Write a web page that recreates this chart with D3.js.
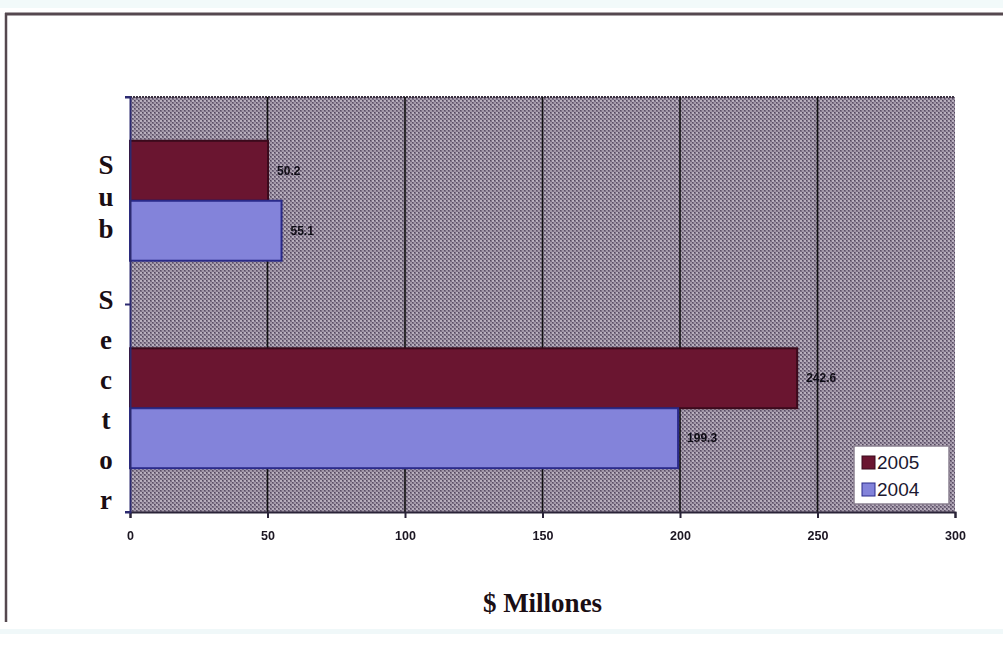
<!DOCTYPE html>
<html>
<head>
<meta charset="utf-8">
<script src="https://cdn.jsdelivr.net/npm/d3@7"></script>
<style>
  html, body { margin: 0; padding: 0; background: #ffffff; }
  svg { display: block; }
</style>
</head>
<body>
<svg id="chart" width="1003" height="647"></svg>
<script>
// Chart data
const categories = ["Grupo 1", "Grupo 2"];
const seriesNames = ["2005", "2004"];
const values2005 = [50.2, 242.6];
const values2004 = [55.1, 199.3];
const xTicks = [0, 50, 100, 150, 200, 250, 300];
const axisTitleLetters = [["S", "u", "b"], ["S", "e", "c", "t", "o", "r"]];
const xTitle = "$ Millones";

const colors = { "2005": "#6a1530", "2004": "#8383da" };
const strokes = { "2005": "#3a0a1c", "2004": "#2a2a8a" };

const svg = d3.select("#chart");
const plot = { left: 130, right: 955, top: 97, bottom: 512 };

// Soft edges for the small text
const defs = svg.append("defs");
defs.append("filter").attr("id", "soft")
  .append("feGaussianBlur").attr("stdDeviation", 0.7);

// Dithered plot background
const pat = defs.append("pattern").attr("id", "dither")
  .attr("width", 4).attr("height", 4).attr("patternUnits", "userSpaceOnUse");
pat.append("rect").attr("width", 4).attr("height", 4).attr("fill", "#7c7086");
pat.append("rect").attr("x", 0).attr("y", 0).attr("width", 2).attr("height", 2).attr("fill", "#b8afbd");
pat.append("rect").attr("x", 2).attr("y", 2).attr("width", 2).attr("height", 2).attr("fill", "#a399a9");
pat.append("rect").attr("x", 2).attr("y", 0).attr("width", 1).attr("height", 1).attr("fill", "#52485c");
pat.append("rect").attr("x", 0).attr("y", 2).attr("width", 1).attr("height", 1).attr("fill", "#5c5066");

// Faint page strips and outer frame
svg.append("rect").attr("x", 0).attr("y", 0).attr("width", 1003).attr("height", 8).attr("fill", "#f2fafa");
svg.append("rect").attr("x", 0).attr("y", 629).attr("width", 1003).attr("height", 5).attr("fill", "#f0f8f9");
svg.append("line").attr("x1", 5).attr("x2", 1003).attr("y1", 14).attr("y2", 14)
  .attr("stroke", "#55484f").attr("stroke-width", 3);
svg.append("line").attr("x1", 6).attr("x2", 6).attr("y1", 13).attr("y2", 622)
  .attr("stroke", "#55484f").attr("stroke-width", 2.5);

// Scales
const x = d3.scaleLinear().domain([0, 300]).range([plot.left, plot.right]);
const y = d3.scaleBand().domain(categories).range([plot.top, plot.bottom]).padding(0);
const ySub = d3.scaleBand().domain(seriesNames).range([0, y.bandwidth()])
  .paddingInner(0).paddingOuter(0.73);

// Plot area
svg.append("rect")
  .attr("x", plot.left).attr("y", plot.top)
  .attr("width", plot.right - plot.left).attr("height", plot.bottom - plot.top)
  .attr("fill", "url(#dither)");
svg.append("line").attr("x1", plot.left).attr("x2", plot.right)
  .attr("y1", plot.top).attr("y2", plot.top)
  .attr("stroke", "#3a3040").attr("stroke-width", 2).attr("stroke-dasharray", "2,1");

// Vertical gridlines
svg.append("g").selectAll("line")
  .data(xTicks.filter(t => t > 0 && t < 300))
  .join("line")
  .attr("x1", d => x(d)).attr("x2", d => x(d))
  .attr("y1", plot.top).attr("y2", plot.bottom)
  .attr("stroke", "#111").attr("stroke-width", 1.6);

// Bars
const rows = categories.map((c, i) => ({
  cat: c,
  items: [
    { s: "2005", v: values2005[i] },
    { s: "2004", v: values2004[i] }
  ]
}));

const groups = svg.append("g").selectAll("g")
  .data(rows).join("g")
  .attr("transform", d => `translate(0,${y(d.cat)})`);

groups.selectAll("rect")
  .data(d => d.items).join("rect")
  .attr("x", x(0))
  .attr("y", d => ySub(d.s))
  .attr("width", d => x(d.v) - x(0))
  .attr("height", ySub.bandwidth())
  .attr("fill", d => colors[d.s])
  .attr("stroke", d => strokes[d.s])
  .attr("stroke-width", 2);

// Value labels
groups.selectAll("text")
  .data(d => d.items).join("text")
  .attr("x", d => x(d.v) + 9)
  .attr("y", d => ySub(d.s) + ySub.bandwidth() / 2)
  .attr("dy", "0.35em")
  .attr("font-family", "Liberation Sans, Arial, sans-serif")
  .attr("font-weight", "bold")
  .attr("font-size", 12)
  .attr("fill", "#0e0a14")
  .attr("filter", "url(#soft)")
  .text(d => d.v.toFixed(1));

// X axis
const xAxis = d3.axisBottom(x).tickValues(xTicks).tickSize(6).tickPadding(13)
  .tickFormat(d3.format("d"));
const gx = svg.append("g").attr("transform", `translate(0,${plot.bottom})`).call(xAxis);
gx.select(".domain").attr("stroke", "#2a2438").attr("stroke-width", 2);
gx.selectAll(".tick line").attr("stroke", "#2a2438").attr("stroke-width", 2);
gx.selectAll(".tick text")
  .attr("font-family", "Liberation Sans, Arial, sans-serif")
  .attr("font-weight", "bold")
  .attr("font-size", 12.5)
  .attr("fill", "#1a1420")
  .attr("filter", "url(#soft)");

// Y axis (category axis without labels)
const yAxis = d3.axisLeft(y).tickFormat("").tickSize(5);
const gy = svg.append("g").attr("transform", `translate(${plot.left},0)`).call(yAxis);
gy.select(".domain").attr("stroke", "#2c2a70").attr("stroke-width", 2);
gy.selectAll(".tick line").remove();
gy.selectAll(".edge").data([plot.top, (plot.top + plot.bottom) / 2, plot.bottom])
  .join("line")
  .attr("x1", -5).attr("x2", 0)
  .attr("y1", d => d).attr("y2", d => d)
  .attr("stroke", "#2c2a70").attr("stroke-width", 2);

// Stacked vertical axis title
const wordStarts = [165, 300];
const wordSteps = [32, 40];
axisTitleLetters.forEach((word, wi) => {
  svg.append("g").selectAll("text")
    .data(word).join("text")
    .attr("x", 106)
    .attr("y", (d, i) => wordStarts[wi] + i * wordSteps[wi])
    .attr("dy", "0.35em")
    .attr("text-anchor", "middle")
    .attr("font-family", "Liberation Serif, Times New Roman, serif")
    .attr("font-weight", "bold")
    .attr("font-size", 27)
    .attr("fill", "#1a0e14")
    .text(d => d);
});

// X axis title
svg.append("text")
  .attr("x", (plot.left + plot.right) / 2)
  .attr("y", 612)
  .attr("text-anchor", "middle")
  .attr("font-family", "Liberation Serif, Times New Roman, serif")
  .attr("font-weight", "bold")
  .attr("font-size", 27)
  .attr("fill", "#1a0e14")
  .text(xTitle);

// Legend
const legend = svg.append("g").attr("transform", "translate(854,446)");
legend.append("rect").attr("width", 95).attr("height", 58)
  .attr("fill", "#ffffff").attr("stroke", "#8a8090").attr("stroke-width", 1.5);
const li = legend.selectAll("g").data(seriesNames).join("g")
  .attr("transform", (d, i) => `translate(8,${16 + i * 27})`);
li.append("rect").attr("x", 0).attr("y", -6).attr("width", 13).attr("height", 13)
  .attr("fill", d => colors[d]).attr("stroke", d => strokes[d]).attr("stroke-width", 1);
li.append("text").attr("x", 15).attr("y", 0).attr("dy", "0.36em")
  .attr("font-family", "Liberation Sans, Arial, sans-serif")
  .attr("font-size", 19)
  .attr("fill", "#1c1830")
  .text(d => d);
</script>
</body>
</html>
